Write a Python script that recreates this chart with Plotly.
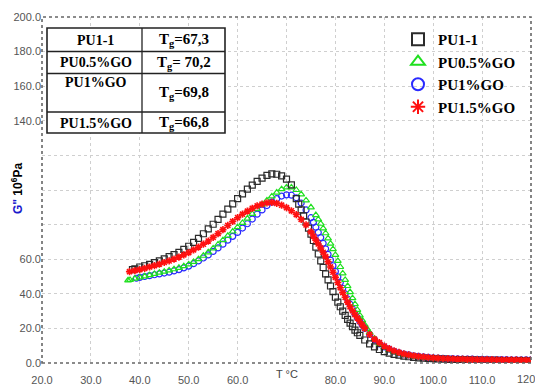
import plotly.graph_objects as go

# ---------------- data ----------------
t_pu11 = [38.5, 39, 40, 41, 42, 43, 44, 45, 46, 47, 48, 49, 50, 51, 52, 53, 54, 55, 56, 57, 58, 59, 60, 61, 62,
          63, 64, 65, 66, 67, 68, 69, 70, 71, 72, 72.5, 73, 73.5, 74, 74.5, 75, 75.5, 76, 76.5, 77, 77.5, 78, 78.5,
          79, 79.5, 80, 80.5, 81, 81.5, 82, 82.5, 83, 83.5, 84, 84.5, 85, 86, 87, 88, 89, 90, 91, 92, 93, 94, 95,
          96, 97, 98, 99, 100, 101, 102, 103, 104, 105, 106, 107, 108, 109, 110, 111, 112, 113, 114, 115, 116,
          117, 118, 119, 120]
g_pu11 = [54, 54.4, 55.5, 56.2, 57, 58, 59, 60.2, 61.5, 62.7, 64, 65.7, 67.5, 69.7, 72, 74.7, 77.5, 80.2, 83,
          86, 89, 92, 95, 97.8, 100.5, 102.8, 105, 106.9, 108.4, 109.3, 109.1, 108.2, 106.3, 103, 95, 91.8, 88.5, 85,
          81.5, 78, 74.5, 70.8, 67, 63, 59, 55.2, 51.5, 48, 44.5, 41.2, 38, 35.2, 32.5, 30, 27.5, 25.2, 23, 21,
          19, 17.5, 16, 13.3, 11, 9.3, 7.8, 6.6, 5.7, 5, 4.5, 4, 3.6, 3.3, 3, 2.8, 2.6, 2.5, 2.3, 2.2, 2.1, 2,
          1.9, 1.8, 1.75, 1.7, 1.65, 1.6, 1.55, 1.5, 1.48, 1.45, 1.4, 1.38, 1.35, 1.33, 1.3, 1.3]

t_pu05 = [37.6, 38, 39, 40, 41, 42, 43, 44, 45, 46, 47, 48, 49, 50, 51, 52, 53, 54, 55, 56, 57, 58, 59, 60, 61,
          62, 63, 64, 65, 66, 67, 68, 69, 70, 71, 72, 73, 74, 75, 76, 76.5, 77, 77.5, 78, 78.5, 79, 79.5, 80, 80.5,
          81, 81.5, 82, 82.5, 83, 83.5, 84, 84.5, 85, 85.5, 86, 86.5, 87, 88, 89, 90, 91, 92, 93, 94, 95, 96, 97,
          98, 99, 100, 101, 102, 103, 104, 105, 106, 107, 108, 109, 110, 111, 112, 113, 114, 115, 116, 117, 118,
          119, 120]
g_pu05 = [47.8, 48, 48.8, 49.5, 50.1, 50.8, 51.5, 52.2, 52.8, 53.5, 54.2, 55, 56, 57, 58.4, 60, 62, 64, 66.2,
          68.5, 71, 73.5, 76, 78.5, 81, 83.5, 86.2, 89, 91.5, 94, 96.3, 98.5, 100.5, 101.5, 101.5, 100, 97.5, 94,
          90, 85.5, 83, 80.5, 77.8, 75, 72, 69, 65.8, 62.5, 59, 55.5, 51.8, 48, 44.5, 41, 37.5, 34, 30.7, 27.5,
          24.7, 22, 19.7, 17.5, 14, 11, 9, 7.5, 6.3, 5.4, 4.7, 4.2, 3.7, 3.4, 3.1, 2.9, 2.7, 2.55, 2.4, 2.3, 2.2,
          2.1, 2, 1.95, 1.9, 1.85, 1.8, 1.75, 1.7, 1.68, 1.65, 1.6, 1.58, 1.55, 1.53, 1.5, 1.5]

t_pu1 = [39.3, 40, 41, 42, 43, 44, 45, 46, 47, 48, 49, 50, 51, 52, 53, 54, 55, 56, 57, 58, 59, 60, 61, 62, 63,
         64, 65, 66, 67, 68, 69, 70, 71, 72, 73, 74, 75, 75.5, 76, 76.5, 77, 77.5, 78, 78.5, 79, 79.5, 80, 80.5,
         81, 81.5, 82, 82.5, 83, 83.5, 84, 84.5, 85, 85.5, 86, 87, 88, 89, 90, 91, 92, 93, 94, 95, 96, 97, 98,
         99, 100, 101, 102, 103, 104, 105, 106, 107, 108, 109, 110, 111, 112, 113, 114, 115, 116, 117, 118, 119,
         120]
g_pu1 = [49, 49.5, 50, 50.5, 51, 51.5, 52, 52.5, 53.2, 54, 55, 56, 57.4, 59, 60.7, 62.5, 64.5, 66.5, 68.7, 71,
         73.2, 75.5, 78, 80.5, 83.2, 86, 88.5, 91, 93, 95, 96.5, 97.2, 97, 95.5, 92.5, 88.5, 84, 81.3, 78.5, 75.5,
         72.5, 69.2, 66, 62.8, 59.5, 56.2, 53, 49.8, 46.5, 43.2, 40, 37, 34, 31.2, 28.5, 26.2, 24, 22, 20, 16.5,
         13.5, 11, 9.3, 8, 6.8, 5.9, 5.2, 4.7, 4.2, 3.8, 3.5, 3.2, 3, 2.85, 2.7, 2.6, 2.5, 2.4, 2.3, 2.25, 2.2,
         2.15, 2.1, 2.05, 2, 1.98, 1.95, 1.9, 1.88, 1.85, 1.83, 1.8, 1.8]

t_pu15 = [37.9, 39, 40, 41, 42, 43, 44, 45, 46, 47, 48, 49, 50, 51, 52, 53, 54, 55, 56, 57, 58, 59, 60, 61, 62,
          63, 64, 65, 66, 67, 68, 69, 70, 71, 72, 73, 74, 75, 75.5, 76, 76.5, 77, 77.5, 78, 78.5, 79, 79.5, 80,
          80.5, 81, 81.5, 82, 82.5, 83, 83.5, 84, 84.5, 85, 85.5, 86, 87, 88, 89, 90, 91, 92, 93, 94, 95, 96, 97,
          98, 99, 100, 101, 102, 103, 104, 105, 106, 107, 108, 109, 110, 111, 112, 113, 114, 115, 116, 117, 118,
          119, 120]
g_pu15 = [52.8, 53.4, 54, 54.7, 55.5, 56.3, 57.2, 58.1, 59, 60.1, 61.2, 62.5, 63.8, 65.4, 67, 68.7, 70.5, 72.6,
          74.8, 77.1, 79.5, 81.8, 84, 86, 87.8, 89.4, 90.8, 91.8, 92.6, 92.8, 92.3, 91.2, 89.8, 88, 85.8, 83, 79.8,
          75.8, 73.4, 71, 68.8, 66.5, 64, 61.5, 58.5, 55.5, 52.5, 49.5, 46.5, 43.5, 40.7, 38, 35.2, 32.5, 30.2, 28,
          26, 24, 22, 20, 16.5, 13.8, 11.8, 9.8, 8.3, 7, 6.1, 5.3, 4.7, 4.2, 3.8, 3.5, 3.2, 3, 2.8, 2.6, 2.5, 2.4,
          2.3, 2.2, 2.1, 2.05, 2, 2, 1.95, 1.9, 1.85, 1.8, 1.8, 1.75, 1.75, 1.7, 1.7, 1.7]

series_names = ["PU1-1", "PU0.5%GO", "PU1%GO", "PU1.5%GO"]

x_ticks = [20, 30, 40, 50, 60, 70, 80, 90, 100, 110, 120]
x_ticktext = ["20.0", "30.0", "40.0", "50.0", "60.0", "", "80.0", "90.0", "100.0", "110.0", "120.0"]
y_ticks = [0, 20, 40, 60, 80, 100, 120, 140, 160, 180, 200]
y_ticktext = ["0.0", "20.0", "40.0", "60.0", "", "", "", "140.0", "160.0", "180.0", "200.0"]

table_left = ["PU1-1", "PU0.5%GO", "PU1%GO", "PU1.5%GO"]
table_right = ["T<sub>g</sub>=67,3", "T<sub>g</sub>= 70,2", "T<sub>g</sub>=69,8", "T<sub>g</sub>=66,8"]

# ---------------- figure ----------------
W, H = 535, 387
ML, MR, MT, MB = 42, 4, 17, 24
PW, PH = W - ML - MR, H - MT - MB


def px(xp):
    return (xp - ML) / PW


def py(yp):
    return 1 - (yp - MT) / PH


fig = go.Figure()

fig.add_trace(go.Scatter(x=t_pu1, y=g_pu1, mode="markers", name=series_names[2], legendrank=3,
                         marker=dict(symbol="circle-open", size=6, color="#2a2aff", line=dict(width=1.2))))
fig.add_trace(go.Scatter(x=t_pu05, y=g_pu05, mode="markers", name=series_names[1], legendrank=2,
                         marker=dict(symbol="triangle-up-open", size=6, color="#1fe01f", line=dict(width=1.2))))
fig.add_trace(go.Scatter(x=t_pu11, y=g_pu11, mode="markers", name=series_names[0], legendrank=1,
                         marker=dict(symbol="square-open", size=6, color="#2b2b2b", line=dict(width=1.2))))
fig.add_trace(go.Scatter(x=t_pu15, y=g_pu15, mode="markers", name=series_names[3], legendrank=4,
                         marker=dict(symbol="asterisk-open", size=6, color="#ff1010", line=dict(width=1.6))))

shapes = []
# dotted frame
shapes.append(dict(type="rect", xref="paper", yref="paper", x0=0, x1=1, y0=0, y1=1,
                   line=dict(color="#666666", width=1.6, dash="dot"), layer="above"))
# table
tl, tr, tm = 47, 225, 142
rows = [28, 51.5, 73.5, 112, 133]
shapes.append(dict(type="rect", xref="paper", yref="paper", x0=px(tl), x1=px(tr), y0=py(rows[-1]), y1=py(rows[0]),
                   line=dict(color="#222222", width=1.6), fillcolor="white", layer="above"))
shapes.append(dict(type="line", xref="paper", yref="paper", x0=px(tm), x1=px(tm), y0=py(rows[-1]), y1=py(rows[0]),
                   line=dict(color="#222222", width=1.3), layer="above"))
for r in rows[1:-1]:
    shapes.append(dict(type="line", xref="paper", yref="paper", x0=px(tl), x1=px(tr), y0=py(r), y1=py(r),
                       line=dict(color="#222222", width=1.3), layer="above"))

annotations = []
left_y = [40, 62.5, 83, 123]
right_y = [40, 62.5, 93, 123]
for i in range(4):
    annotations.append(dict(text=table_left[i], xref="paper", yref="paper", x=px((tl + tm) / 2 + 1), y=py(left_y[i]),
                            showarrow=False, xanchor="center", yanchor="middle",
                            font=dict(family="Liberation Serif", size=14, color="black", weight="bold")))
    annotations.append(dict(text=table_right[i], xref="paper", yref="paper", x=px((tm + tr) / 2), y=py(right_y[i]),
                            showarrow=False, xanchor="center", yanchor="middle",
                            font=dict(family="Liberation Serif", size=15, color="black", weight="bold")))

# y-axis title
annotations.append(dict(text='<span style="color:#1a1acc">G"</span> 10<sup>6</sup>Pa', xref="paper", yref="paper",
                        x=px(17), y=py(189), textangle=-90, showarrow=False, xanchor="center", yanchor="middle",
                        font=dict(family="Liberation Sans", size=12, color="black", weight="bold")))
# x-axis title in place of the 70.0 label
annotations.append(dict(text="T °C", xref="x", yref="paper", x=70, y=py(374), showarrow=False,
                        xanchor="center", yanchor="middle",
                        font=dict(family="Liberation Sans", size=11, color="#444444")))
# last x tick label, cut by the right edge as in the reference
annotations.append(dict(text=x_ticktext[-1], xref="x", yref="paper", x=x_ticks[-1], y=py(378.5), showarrow=False,
                        xanchor="center", yanchor="middle",
                        font=dict(family="Liberation Sans", size=11, color="#555555")))

fig.update_layout(
    width=W, height=H,
    margin=dict(l=ML, r=MR, t=MT, b=MB, autoexpand=False),
    paper_bgcolor="white", plot_bgcolor="white",
    showlegend=True,
    legend=dict(x=px(398), y=py(23), xanchor="left", yanchor="top", bgcolor="rgba(0,0,0,0)",
                itemsizing="constant", tracegroupgap=0,
                font=dict(family="Liberation Serif", size=15, color="black", weight="bold")),
    xaxis=dict(range=[20, 120], tickvals=x_ticks, ticktext=x_ticktext, showgrid=True, automargin=False,
               gridcolor="#cfcfcf", griddash="dot", gridwidth=1, zeroline=False, showline=False,
               ticks="outside", ticklen=7, tickcolor="rgba(0,0,0,0)",
               tickfont=dict(family="Liberation Sans", size=11, color="#555555")),
    yaxis=dict(range=[0, 200], tickvals=y_ticks, ticktext=y_ticktext, showgrid=True, automargin=False,
               gridcolor="#cfcfcf", griddash="dot", gridwidth=1, zeroline=False, showline=False,
               ticks="", tickfont=dict(family="Liberation Sans", size=11, color="#555555")),
    shapes=shapes,
    annotations=annotations,
)

fig.write_html("out.html", config={"displayModeBar": False},
               post_script="document.body.style.margin='0';document.body.style.overflow='hidden';")
